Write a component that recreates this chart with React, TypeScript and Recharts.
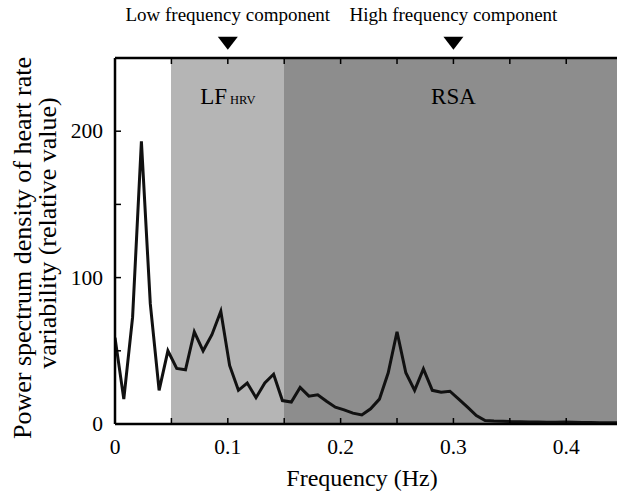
import React from "react";
import {
  ComposedChart,
  Line,
  XAxis,
  YAxis,
  CartesianGrid,
  ReferenceDot,
  Label,
} from "recharts";

// frequency bins (Hz), 1/128 Hz spacing
const freqs = [
  0, 0.0078, 0.0156, 0.0234, 0.0313, 0.0391, 0.0469, 0.0547, 0.0625, 0.0703,
  0.0781, 0.0859, 0.0938, 0.1016, 0.1094, 0.1172, 0.125, 0.1328, 0.1406, 0.1484,
  0.1563, 0.1641, 0.1719, 0.1797, 0.1875, 0.1953, 0.2031, 0.2109, 0.2188, 0.2266,
  0.2344, 0.2422, 0.25, 0.2578, 0.2656, 0.2734, 0.2813, 0.2891, 0.2969, 0.3047,
  0.3125, 0.3203, 0.3281, 0.3359, 0.3438, 0.3516, 0.3594, 0.3672, 0.375, 0.3828,
  0.3906, 0.3984, 0.4063, 0.4141, 0.4219, 0.4297, 0.4375, 0.4453,
];

// power spectrum density (relative value)
const power = [
  59, 17, 73, 193, 82, 23, 50, 38, 37, 63,
  50, 61, 77, 40, 23, 28, 18, 28, 34, 16,
  15, 25, 19, 20, 15.5, 11.5, 9.7, 7.4, 6.2, 10.4,
  17, 35, 63, 35, 23, 37.6, 23, 21.7, 22.4, 17,
  11.5, 5.8, 2.4, 2, 1.8, 1.6, 1.5, 1.4, 1.3, 1.2,
  1.2, 1.3, 1.2, 1.1, 1, 0.9, 0.9, 0.8,
];

const xTicks = [0, 0.05, 0.1, 0.15, 0.2, 0.25, 0.3, 0.35, 0.4];
const xLabels = [0, 0.1, 0.2, 0.3, 0.4];
const yTicks = [0, 50, 100, 150, 200, 250];
const yLabels = [0, 100, 200];

// background bands: white below 0.05 Hz, LF 0.05-0.15 Hz, HF above 0.15 Hz
const bandEdges = [0, 0.05, 0.15];
const bandFills = ["#ffffff", "#b5b5b5", "#8d8d8d"];

const components = [
  { f: 0.1, text: "Low frequency component" },
  { f: 0.3, text: "High frequency component" },
];

const data = freqs.map((f, i) => ({ f, p: power[i] }));

const serif = '"Liberation Serif", "Times New Roman", serif';
const X_MAX = 0.445;
const Y_MAX = 250;

const BottomTick = (props: any) => {
  const { x, y, payload } = props;
  const v = payload.value;
  return (
    <g>
      <line x1={x} y1={y} x2={x} y2={y - 6} stroke="#000" strokeWidth={1.5} />
      {xLabels.includes(v) && (
        <text
          x={x}
          y={y + 23}
          textAnchor="middle"
          dominantBaseline="central"
          fontSize={21.5}
          fill="#000"
          style={{ fontFamily: serif }}
        >
          {v === 0 ? "0" : v.toFixed(1)}
        </text>
      )}
    </g>
  );
};

const TopTick = (props: any) => {
  const { x, y } = props;
  return <line x1={x} y1={y} x2={x} y2={y + 6} stroke="#000" strokeWidth={1.5} />;
};

const LeftTick = (props: any) => {
  const { x, y, payload } = props;
  const v = payload.value;
  return (
    <g>
      <line x1={x} y1={y} x2={x + 6} y2={y} stroke="#000" strokeWidth={1.5} />
      {yLabels.includes(v) && (
        <text
          x={x - 12}
          y={y}
          textAnchor="end"
          dominantBaseline="central"
          fontSize={21.5}
          fill="#000"
          style={{ fontFamily: serif }}
        >
          {v}
        </text>
      )}
    </g>
  );
};

const RightTick = (props: any) => {
  const { x, y } = props;
  return <line x1={x} y1={y} x2={x - 6} y2={y} stroke="#000" strokeWidth={1.5} />;
};

const YTitle = (props: any) => {
  const { viewBox } = props;
  const cy = viewBox.y + viewBox.height / 2;
  const x1 = viewBox.x + 22;
  const x2 = viewBox.x + 47;
  return (
    <g fontFamily={serif} fontSize={26} fill="#000">
      <text
        x={x1}
        y={cy + 7}
        textAnchor="middle"
        dominantBaseline="central"
        transform={`rotate(-90, ${x1}, ${cy + 7})`}
      >
        Power spectrum density of heart rate
      </text>
      <text
        x={x2}
        y={cy - 8}
        textAnchor="middle"
        dominantBaseline="central"
        transform={`rotate(-90, ${x2}, ${cy - 8})`}
      >
        variability (relative value)
      </text>
    </g>
  );
};

const XTitle = (props: any) => {
  const { viewBox } = props;
  return (
    <text
      x={viewBox.x + viewBox.width / 2 - 4}
      y={viewBox.y + 54}
      textAnchor="middle"
      dominantBaseline="central"
      fontSize={24}
      fontFamily={serif}
      fill="#000"
    >
      Frequency (Hz)
    </text>
  );
};

const Marker = (text: string) => (props: any) => {
  const { cx, cy } = props;
  return (
    <g>
      <path d={`M${cx - 10},${cy - 6.5} L${cx + 10},${cy - 6.5} L${cx},${cy + 6.5} Z`} fill="#000" />
      <text
        x={cx}
        y={cy - 28.5}
        textAnchor="middle"
        dominantBaseline="central"
        fontSize={19}
        fontFamily={serif}
        fill="#000"
      >
        {text}
      </text>
    </g>
  );
};

const LfLabel = (props: any) => {
  const { cx, cy } = props;
  return (
    <text x={cx} y={cy} textAnchor="middle" dominantBaseline="central" fontFamily={serif} fill="#000">
      <tspan fontSize={23}>LF</tspan>
      <tspan fontSize={12.5} dx={3} dy={4}>HRV</tspan>
    </text>
  );
};

const RsaLabel = (props: any) => {
  const { cx, cy } = props;
  return (
    <text x={cx} y={cy} textAnchor="middle" dominantBaseline="central" fontSize={23} fontFamily={serif} fill="#000">
      RSA
    </text>
  );
};

// band edges in pixels, same linear mapping as the x axis
const bandPoints = (args: any) => {
  const { offset, xAxis } = args;
  if (xAxis && typeof xAxis.scale === "function") {
    return bandEdges.map((e) => xAxis.scale(e));
  }
  return bandEdges.map((e) => offset.left + (e / X_MAX) * offset.width);
};

export default function App() {
  return (
    <div style={{ position: "absolute", left: 0, top: 0, width: 618, height: 492, background: "#fff" }}>
      <ComposedChart
        width={618}
        height={492}
        data={data}
        margin={{ top: 57, right: 0, bottom: 0, left: 0 }}
      >
        <CartesianGrid
          horizontal={false}
          vertical
          verticalCoordinatesGenerator={bandPoints}
          verticalFill={bandFills}
          fillOpacity={1}
          stroke="none"
          strokeOpacity={0}
        />

        <XAxis
          dataKey="f"
          type="number"
          domain={[0, X_MAX]}
          allowDataOverflow
          ticks={xTicks}
          interval={0}
          height={68}
          tickSize={0}
          tickMargin={0}
          tick={<BottomTick />}
          axisLine={{ stroke: "#000", strokeWidth: 2.5 }}
        >
          <Label content={<XTitle />} />
        </XAxis>
        <XAxis
          xAxisId="top"
          orientation="top"
          dataKey="f"
          type="number"
          domain={[0, X_MAX]}
          allowDataOverflow
          ticks={xTicks}
          interval={0}
          height={1}
          tickSize={0}
          tickMargin={0}
          tick={<TopTick />}
          axisLine={{ stroke: "#000", strokeWidth: 2.5 }}
        />
        <YAxis
          type="number"
          domain={[0, Y_MAX]}
          ticks={yTicks}
          interval={0}
          width={115}
          tickSize={0}
          tickMargin={0}
          tick={<LeftTick />}
          axisLine={{ stroke: "#000", strokeWidth: 2.5 }}
        >
          <Label content={<YTitle />} />
        </YAxis>
        <YAxis
          yAxisId="right"
          orientation="right"
          type="number"
          domain={[0, Y_MAX]}
          ticks={yTicks}
          interval={0}
          width={1}
          tickSize={0}
          tickMargin={0}
          tick={<RightTick />}
          axisLine={false}
        />

        <Line
          type="linear"
          dataKey="p"
          stroke="#111"
          strokeWidth={3}
          dot={false}
          isAnimationActive={false}
        />

        <ReferenceDot x={0.1} y={224} r={0} ifOverflow="visible" shape={<LfLabel />} />
        <ReferenceDot x={0.3} y={224} r={0} ifOverflow="visible" shape={<RsaLabel />} />
        {components.map((c) => (
          <ReferenceDot
            key={c.text}
            x={c.f}
            y={260}
            r={0}
            ifOverflow="visible"
            shape={Marker(c.text)}
          />
        ))}
      </ComposedChart>
    </div>
  );
}
